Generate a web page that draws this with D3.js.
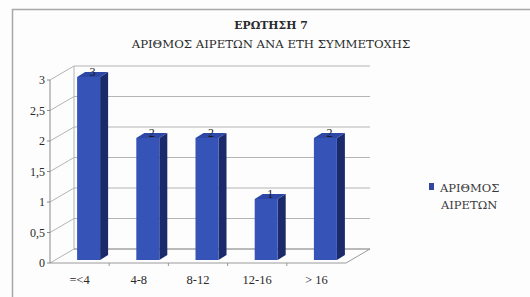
<!DOCTYPE html>
<html>
<head>
<meta charset="utf-8">
<script src="https://cdn.jsdelivr.net/npm/d3@7"></script>
<style>
  body { margin: 0; background: #fdfdfd; }
  text { font-family: "Liberation Serif", "DejaVu Serif", serif; }
  .greek { font-family: "DejaVu Serif", serif; }
</style>
</head>
<body>
<script>
const categories = ["=<4", "4-8", "8-12", "12-16", "> 16"];
const values = [3, 2, 2, 1, 2];
const yTicks = [0, 0.5, 1, 1.5, 2, 2.5, 3];
const titleLines = ["ΕΡΩΤΗΣΗ 7", "ΑΡΙΘΜΟΣ ΑΙΡΕΤΩΝ  ΑΝΑ ΕΤΗ ΣΥΜΜΕΤΟΧΗΣ"];
const legendLines = ["ΑΡΙΘΜΟΣ", "ΑΙΡΕΤΩΝ"];

const width = 530, height = 297;
// oblique depth of the 3d box
const DX = 24, DY = -14;
// bar placement inside the depth
const barDx = 9, barDy = -3, barSideX = 8, barSideY = -5;

const svg = d3.select("body")
  .append("svg")
  .attr("width", width)
  .attr("height", height);

svg.append("rect")
  .attr("width", width).attr("height", height)
  .attr("fill", "#fdfdfd");

// frame
svg.append("path")
  .attr("d", "M12.5,297 V9.5 H530")
  .attr("fill", "none")
  .attr("stroke", "#a8a8a8")
  .attr("stroke-width", 1.5);

const x = d3.scaleBand()
  .domain(categories)
  .range([50, 346]);

const y = d3.scaleLinear()
  .domain([0, 3])
  .range([263, 80]);

const x0 = x.range()[0], x1 = x.range()[1];
const fmt = d => d3.format(".1~f")(d).replace(".", ",");

const grid = svg.append("g")
  .attr("fill", "none")
  .attr("stroke", "#b4b4b4")
  .attr("stroke-width", 1);

// back wall gridlines and left wall diagonals
yTicks.forEach(t => {
  grid.append("line")
    .attr("x1", x0 + DX).attr("x2", x1 + DX)
    .attr("y1", y(t) + DY).attr("y2", y(t) + DY);
  grid.append("line")
    .attr("x1", x0).attr("x2", x0 + DX)
    .attr("y1", y(t)).attr("y2", y(t) + DY);
});
grid.append("line")
  .attr("x1", x0 + DX).attr("x2", x0 + DX)
  .attr("y1", y(0) + DY).attr("y2", y(3) + DY);

// floor
grid.append("path")
  .attr("d", `M${x0},${y(0)} L${x1},${y(0)} L${x1 + DX},${y(0) + DY} L${x0 + DX},${y(0) + DY}`)
  .attr("stroke", "#9a9a9a");

// y axis
svg.append("line")
  .attr("x1", x0).attr("x2", x0)
  .attr("y1", y(0)).attr("y2", y(3))
  .attr("stroke", "#8a8a8a");

svg.append("g")
  .selectAll("line")
  .data(yTicks)
  .join("line")
  .attr("x1", x0 - 3).attr("x2", x0)
  .attr("y1", d => y(d)).attr("y2", d => y(d))
  .attr("stroke", "#8a8a8a");

svg.append("g")
  .selectAll("text")
  .data(yTicks)
  .join("text")
  .attr("x", x0 - 5)
  .attr("y", d => y(d) + 4)
  .attr("text-anchor", "end")
  .attr("font-size", 12)
  .attr("fill", "#2a2a2a")
  .text(fmt);

// x axis ticks and labels
svg.append("g")
  .selectAll("line")
  .data(categories.slice(1))
  .join("line")
  .attr("x1", d => x(d)).attr("x2", d => x(d))
  .attr("y1", y(0)).attr("y2", y(0) + 3)
  .attr("stroke", "#9a9a9a");

svg.append("g")
  .selectAll("text")
  .data(categories)
  .join("text")
  .attr("x", d => x(d) + x.bandwidth() / 2)
  .attr("y", 284)
  .attr("text-anchor", "middle")
  .attr("font-size", 12.5)
  .attr("fill", "#2a2a2a")
  .text(d => d);

// bars
const bw = 23;
const bars = svg.append("g")
  .selectAll("g")
  .data(categories.map((c, i) => ({c, v: values[i]})))
  .join("g");

const barLeft = d => x(d.c) + x.bandwidth() / 2 - bw / 2 + barDx;
const barTop = d => y(d.v) + barDy;
const barBottom = y(0) + barDy;

bars.append("path")
  .attr("fill", "#1b2a6b")
  .attr("d", d => `M${barLeft(d) + bw},${barTop(d)} L${barLeft(d) + bw + barSideX},${barTop(d) + barSideY} L${barLeft(d) + bw + barSideX},${barBottom + barSideY} L${barLeft(d) + bw},${barBottom} Z`);

bars.append("path")
  .attr("fill", "#2c47a6")
  .attr("d", d => `M${barLeft(d)},${barTop(d)} L${barLeft(d) + barSideX},${barTop(d) + barSideY} L${barLeft(d) + bw + barSideX},${barTop(d) + barSideY} L${barLeft(d) + bw},${barTop(d)} Z`);

bars.append("rect")
  .attr("x", barLeft)
  .attr("y", barTop)
  .attr("width", bw)
  .attr("height", d => barBottom - barTop(d))
  .attr("fill", "#3653b8");

bars.append("text")
  .attr("x", d => barLeft(d) + bw / 2 + barSideX / 2)
  .attr("y", d => barTop(d) - 1)
  .attr("text-anchor", "middle")
  .attr("font-size", 12)
  .attr("fill", "#1a1a1a")
  .text(d => d.v);

// title
svg.append("g")
  .selectAll("text")
  .data(titleLines)
  .join("text")
  .attr("class", "greek")
  .attr("x", 271)
  .attr("y", (d, i) => 29 + i * 19)
  .attr("text-anchor", "middle")
  .attr("font-size", (d, i) => i ? 11.7 : 10.8)
  .attr("font-weight", (d, i) => i ? "normal" : "bold")
  .attr("fill", "#2a2a2a")
  .text(d => d);

// legend
svg.append("rect")
  .attr("x", 429).attr("y", 183)
  .attr("width", 5).attr("height", 7)
  .attr("fill", "#34459c");

svg.append("g")
  .selectAll("text")
  .data(legendLines)
  .join("text")
  .attr("class", "greek")
  .attr("x", (d, i) => 440 + i)
  .attr("y", (d, i) => 192 + i * 17)
  .attr("font-size", 11.5)
  .attr("fill", "#3a3a3a")
  .text(d => d);
</script>
</body>
</html>
